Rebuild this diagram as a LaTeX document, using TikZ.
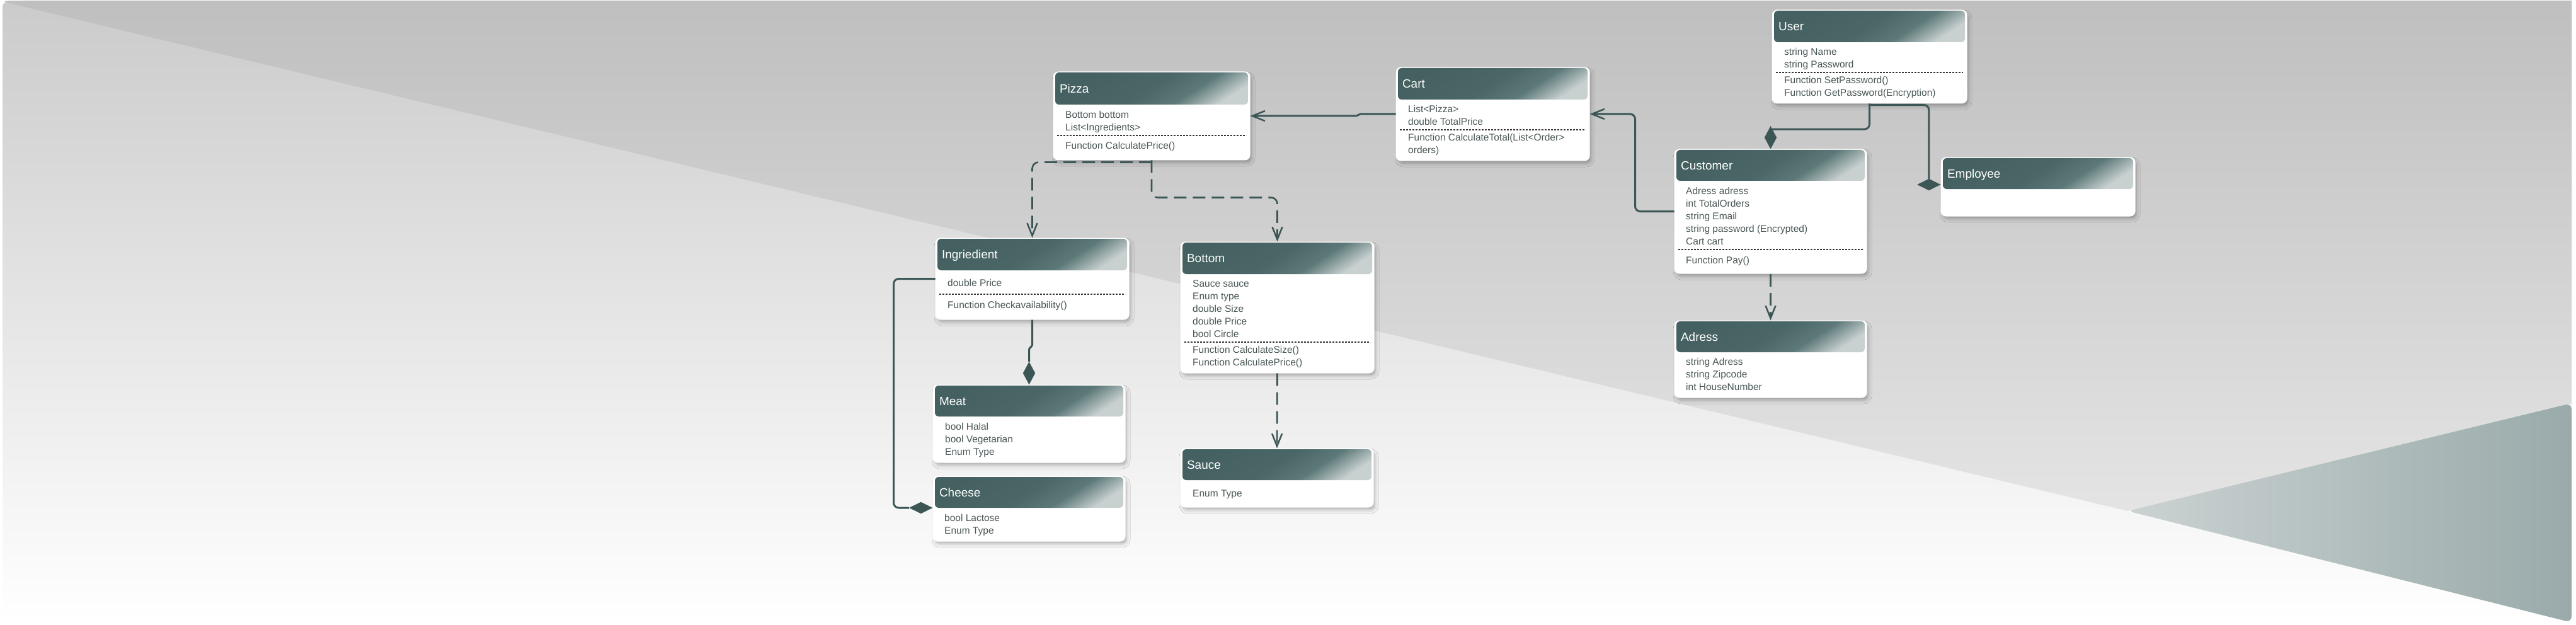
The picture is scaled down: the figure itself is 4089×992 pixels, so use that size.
\documentclass[tikz,border=0pt]{standalone}
\usepackage{fontspec}
\setmainfont{Liberation Sans}
\usetikzlibrary{arrows.meta,shapes.geometric,shadows.blur,calc}
\definecolor{hdark}{RGB}{68,96,96}
\definecolor{hdarkb}{RGB}{74,102,102}
\definecolor{hmid}{RGB}{92,120,120}
\definecolor{hlight}{RGB}{200,208,208}
\definecolor{lnc}{RGB}{60,86,86}
\definecolor{txt}{RGB}{74,86,86}
\definecolor{bgtop}{RGB}{203,203,203}
\definecolor{ovtop}{RGB}{191,191,191}
\definecolor{ovbot}{RGB}{228,228,228}
\definecolor{trl}{RGB}{203,210,210}
\definecolor{trr}{RGB}{154,170,170}
\pgfdeclarehorizontalshading{hdrshade}{100bp}{color(0bp)=(hdark); color(25bp)=(hdark); color(50bp)=(hdarkb); color(63bp)=(hmid); color(76bp)=(hlight); color(100bp)=(hlight)}
\tikzset{
  cardbody/.style={rectangle, rounded corners=7pt, fill=white, draw=white, line width=3pt, inner sep=0pt,
    blur shadow={shadow xshift=3pt, shadow yshift=-5pt, shadow blur radius=6pt, shadow opacity=30}},
  cardhead/.style={rectangle, rounded corners=6pt, shading=hdrshade, shading angle=-57, inner sep=0pt},
  ttl/.style={anchor=west, text=white, font=\fontsize{19}{22}\selectfont, inner sep=0pt, text height=13.6pt, text depth=0pt},
  attr/.style={anchor=base west, text=txt, font=\fontsize{15.5}{20}\selectfont, inner sep=0pt},
  sep/.style={draw=black!80, line width=2pt, dash pattern=on 3pt off 2pt},
  conn/.style={draw=lnc, line width=3pt, rounded corners=8pt},
  dep/.style={conn, line width=2.6pt, dash pattern=on 20pt off 10pt},
  arr/.style={-{Straight Barb[length=20pt,width=16pt,line width=2.5pt]}},
  diav/.style={diamond, fill=lnc, inner sep=0pt, minimum width=19pt, minimum height=36pt},
  diah/.style={diamond, fill=lnc, inner sep=0pt, minimum width=37pt, minimum height=18pt}
}
\newcommand\umlcard[7]{%
  \node[cardbody, minimum width={#3-#2}, minimum height={#6-#4}] (#1) at ({(#2+#3)/2},{(#4+#6)/2}) {};
  \node[cardhead, minimum width={#3-#2-4}, minimum height={#5-#4}] (#1-h) at ({(#2+#3)/2},{(#4+#5)/2}) {};
  \node[ttl] (#1-t) at ([xshift=7pt]#1-h.west) {#7};
}
\newcommand\rows[4]{%
  \foreach \rowtext [count=\ri from 0] in {#4}{\node[attr] (#1-\ri) at (#2,{#3+5.5+20*\ri}) {\rowtext};}%
}
\newcommand\sepline[3]{\draw[sep] (#1,#3) -- (#2,#3);}
\begin{document}
\begin{tikzpicture}[x=1pt,y=-1pt]
\useasboundingbox (0,0) rectangle (4089,992);
% background
\fill[white] (0,0) rectangle (4089,992);
\shade[top color=bgtop, bottom color=white, rounded corners=8pt] (4,3) rectangle (4082,985);
\shade[top color=ovtop, bottom color=ovbot] (3377,811) -- (14,5) .. controls (2,1) .. (50,1) -- (4082,1) -- (4082,640) -- cycle;
\shade[left color=trl, right color=trr, rounded corners=10pt] (3377,811) -- (4082,640) -- (4082,988) -- cycle;

% classes
\umlcard{pizza}{1673}{1983}{115}{166}{253}{Pizza}
\rows{pizza-a}{1691}{182}{Bottom bottom,List<Ingredients>}
\sepline{1678}{1978}{215}
\rows{pizza-m}{1691}{231}{Function CalculatePrice()}

\umlcard{cart}{2217}{2522}{108}{158}{254}{Cart}
\rows{cart-a}{2235}{173}{List<Pizza>,double TotalPrice}
\sepline{2222}{2517}{206}
\rows{cart-m}{2235}{218}{Function CalculateTotal(List<Order>,orders)}

\umlcard{user}{2814}{3121}{17}{67}{163}{User}
\rows{user-a}{2832}{82}{string Name,string Password}
\sepline{2819}{3116}{115}
\rows{user-m}{2832}{127}{Function SetPassword(),Function GetPassword(Encryption)}

\umlcard{customer}{2659}{2962}{238}{287}{433}{Customer}
\rows{customer-a}{2676}{303}{Adress adress,int TotalOrders,string Email,string password (Encrypted),Cart cart}
\sepline{2664}{2957}{396}
\rows{customer-m}{2676}{413}{Function Pay()}

\umlcard{employee}{3082}{3388}{251}{300}{342}{Employee}

\umlcard{ingredient}{1486}{1791}{379}{429}{506}{Ingriedient}
\rows{ingredient-a}{1504}{449}{double Price}
\sepline{1491}{1786}{467}
\rows{ingredient-m}{1504}{484}{Function Checkavailability()}

\umlcard{bottom}{1875}{2180}{385}{435}{591}{Bottom}
\rows{bottom-a}{1893}{450}{Sauce sauce,Enum type,double Size,double Price,bool Circle}
\sepline{1880}{2175}{543}
\rows{bottom-m}{1893}{555}{Function CalculateSize(),Function CalculatePrice()}

\umlcard{meat}{1482}{1785}{612}{661}{733}{Meat}
\rows{meat-a}{1500}{677}{bool Halal,bool Vegetarian,Enum Type}

\umlcard{cheese}{1482}{1785}{757}{806}{858}{Cheese}
\rows{cheese-a}{1499}{822}{bool Lactose,Enum Type}

\umlcard{sauce}{1875}{2179}{713}{762}{804}{Sauce}
\rows{sauce-a}{1893}{783}{Enum Type}

\umlcard{adress}{2659}{2962}{510}{559}{630}{Adress}
\rows{adress-a}{2676}{574}{string Adress,string Zipcode,int HouseNumber}

% associations and dependencies
\draw[conn, arr, rounded corners=2pt] (cart.west) -- ++(-58,0) -- ++(-3,3) -- (pizza.east);
\draw[conn, arr] (customer.west) -- ++(-62,0) |- (cart.east);
\draw[dep, arr] (customer.south) -- (adress.north);
\draw[dep, arr, rounded corners=10pt] ([yshift=-3pt]pizza.south) -| (ingredient.north);
\draw[dep, arr, rounded corners=10pt] (pizza.south) -- ++(0,59) -| (bottom.north);
\draw[dep, arr] (bottom.south) -- (sauce.north);

% compositions
\coordinate (cust-dpos) at (customer.north);
\coordinate (emp-dpos) at ([yshift=3.5pt]employee.west);
\coordinate (meat-dpos) at (meat.north);
\coordinate (cheese-dpos) at ([yshift=1.5pt]cheese.west);
\path (cust-dpos) node[diav, anchor=south, fill=none] (cust-d) {}
      (emp-dpos) node[diah, anchor=east, fill=none] (emp-d) {}
      (meat-dpos) node[diav, anchor=south, fill=none] (meat-d) {}
      (cheese-dpos) node[diah, anchor=east, fill=none] (cheese-d) {};
\draw[conn] (user.south) |- ($(cust-d.north)+(0,5)$);
\draw[conn] ([yshift=-2pt]user.south) -| (emp-d.center);
\draw[conn, rounded corners=2pt] (ingredient.south) -- ++(0,42) -- ++(-5,3) -- (meat-d.north);
\draw[conn] (ingredient.west) -- ++(-66,0) |- (cheese-d.west);
\fill[lnc] (cust-d.north) -- (cust-d.east) -- (cust-d.south) -- (cust-d.west) -- cycle;
\fill[lnc] (emp-d.north) -- (emp-d.east) -- (emp-d.south) -- (emp-d.west) -- cycle;
\fill[lnc] (meat-d.north) -- (meat-d.east) -- (meat-d.south) -- (meat-d.west) -- cycle;
\fill[lnc] (cheese-d.north) -- (cheese-d.east) -- (cheese-d.south) -- (cheese-d.west) -- cycle;
\end{tikzpicture}
\end{document}
